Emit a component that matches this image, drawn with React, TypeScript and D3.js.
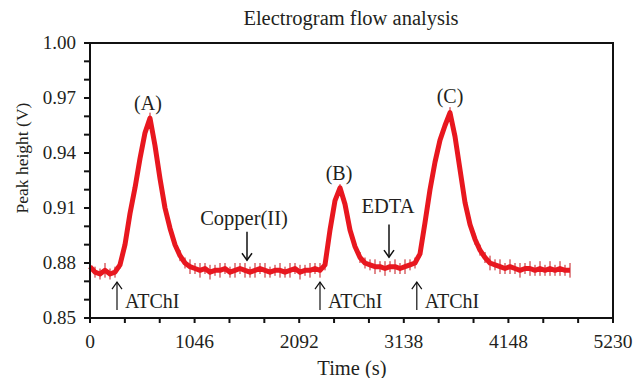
import React from "react";
import * as d3 from "d3";

const sampleStep = 50; // seconds between samples
const peakHeight: number[] = [
  0.878, 0.875, 0.874, 0.876, 0.874, 0.875, 0.879, 0.890, 0.907, 0.921,
  0.937, 0.951, 0.959, 0.944, 0.926, 0.910, 0.899, 0.890, 0.884, 0.880,
  0.878, 0.877, 0.876, 0.877, 0.875, 0.876, 0.876, 0.877, 0.875, 0.876,
  0.877, 0.876, 0.875, 0.876, 0.877, 0.876, 0.875, 0.876, 0.876, 0.875,
  0.876, 0.877, 0.875, 0.876, 0.876, 0.877, 0.876, 0.879, 0.898, 0.914,
  0.921, 0.912, 0.898, 0.889, 0.883, 0.880, 0.879, 0.878, 0.878, 0.877,
  0.878, 0.878, 0.877, 0.878, 0.879, 0.880, 0.885, 0.902, 0.920, 0.935,
  0.947, 0.955, 0.962, 0.949, 0.931, 0.913, 0.901, 0.893, 0.887, 0.883,
  0.880, 0.879, 0.878, 0.877, 0.878, 0.877, 0.876, 0.877, 0.877, 0.876,
  0.877, 0.876, 0.877, 0.876, 0.877, 0.876, 0.876,
];
const noise: number[] = [
  0.004, 0.003, 0.003, 0.004, 0.003, 0.003, 0.002, 0.003, 0.002, 0.002,
  0.002, 0.002, 0.003, 0.002, 0.002, 0.002, 0.002, 0.002, 0.003, 0.003,
  0.004, 0.003, 0.004, 0.003, 0.004, 0.003, 0.004, 0.003, 0.003, 0.004,
  0.003, 0.004, 0.003, 0.004, 0.003, 0.004, 0.003, 0.003, 0.004, 0.003,
  0.004, 0.003, 0.004, 0.003, 0.004, 0.003, 0.004, 0.003, 0.002, 0.002,
  0.002, 0.002, 0.002, 0.002, 0.003, 0.003, 0.003, 0.004, 0.003, 0.004,
  0.003, 0.004, 0.003, 0.004, 0.003, 0.003, 0.002, 0.002, 0.002, 0.002,
  0.002, 0.002, 0.003, 0.002, 0.002, 0.002, 0.002, 0.003, 0.003, 0.003,
  0.004, 0.003, 0.004, 0.003, 0.004, 0.003, 0.004, 0.003, 0.004, 0.003,
  0.004, 0.003, 0.004, 0.003, 0.004, 0.003, 0.004,
];

const xMajorTicks = [0, 1046, 2092, 3138, 4184, 5230];
const xTickLabels = ["0", "1046", "2092", "3138", "4148", "5230"];
const yMajorTicks = [0.85, 0.88, 0.91, 0.94, 0.97, 1.0];
const yTickLabels = ["0.85", "0.88", "0.91", "0.94", "0.97", "1.00"];

const peakLabels = [
  { text: "(A)", t: 580, v: 0.9635 },
  { text: "(B)", t: 2490, v: 0.9255 },
  { text: "(C)", t: 3600, v: 0.9675 },
];
const downArrows = [
  { text: "Copper(II)", t: 1570, textT: 1540, tip: 0.8815, tail: 0.897, textV: 0.9005 },
  { text: "EDTA", t: 2990, textT: 2980, tip: 0.8832, tail: 0.901, textV: 0.9072 },
];
const upArrows = [
  { text: "ATChI", t: 270 },
  { text: "ATChI", t: 2300 },
  { text: "ATChI", t: 3268 },
];

const W = 636;
const H = 378;
const FONT = "'Liberation Serif', 'Times New Roman', serif";
const TXT = "#231f20";

export default function App() {
  const x = d3.scaleLinear().domain([0, 5230]).range([90, 613]);
  const y = d3.scaleLinear().domain([0.85, 1.0]).range([318, 43]);
  const data = peakHeight.map((v, i) => ({ t: i * sampleStep, v, e: noise[i] }));
  const line = d3
    .line<{ t: number; v: number }>()
    .x((d) => x(d.t))
    .y((d) => y(d.v));
  const xMinor = d3.range(0, 5231, 5230 / 15);
  const yMinor = d3.range(0, 16).map((i) => 0.85 + i * 0.01);
  const [x0, x1] = x.range();
  const [yb, yt] = y.range();

  return (
    <svg
      width={W}
      height={H}
      style={{ position: "absolute", left: 0, top: 0, background: "#fff" }}
      fontFamily={FONT}
    >
      <text x={351} y={25} textAnchor="middle" fontSize={20.5} fill={TXT}>
        Electrogram flow analysis
      </text>

      {/* data */}
      <g>
        {data.map((d, i) => (
          <line
            key={"e" + i}
            x1={x(d.t)}
            x2={x(d.t)}
            y1={y(d.v - d.e)}
            y2={y(d.v + d.e)}
            stroke="#c4161c"
            strokeWidth={1}
          />
        ))}
        <path d={line(data) || ""} fill="none" stroke="#e8171f" strokeWidth={5} strokeLinejoin="round" />
      </g>

      {/* frame */}
      <rect x={x0} y={yt} width={x1 - x0} height={yb - yt} fill="none" stroke="#111" strokeWidth={2} />

      {/* x ticks */}
      {xMinor.map((t, i) => (
        <line key={"xm" + i} x1={x(t)} x2={x(t)} y1={yb} y2={yb + 5} stroke="#111" strokeWidth={2} />
      ))}
      {xMajorTicks.map((t, i) => (
        <text key={"xl" + i} x={x(t)} y={348} textAnchor="middle" fontSize={19.5} fill={TXT}>
          {xTickLabels[i]}
        </text>
      ))}
      {/* y ticks */}
      {yMinor.map((v, i) => (
        <line key={"ym" + i} x1={x0 - 6} x2={x0} y1={y(v)} y2={y(v)} stroke="#111" strokeWidth={2} />
      ))}
      {yMajorTicks.map((v, i) => (
        <text key={"yl" + i} x={76} y={y(v)} dy="0.33em" textAnchor="end" fontSize={19} fill={TXT}>
          {yTickLabels[i]}
        </text>
      ))}

      <text x={352} y={375} textAnchor="middle" fontSize={20.5} fill={TXT}>
        Time (s)
      </text>
      <text transform="translate(28,158) rotate(-90)" textAnchor="middle" fontSize={17.5} fill={TXT}>
        Peak height (V)
      </text>

      {/* annotations */}
      {peakLabels.map((p, i) => (
        <text key={"p" + i} x={x(p.t)} y={y(p.v)} textAnchor="middle" fontSize={20} fill={TXT}>
          {p.text}
        </text>
      ))}
      {downArrows.map((a, i) => {
        const ax = x(a.t);
        const tipY = y(a.tip);
        return (
          <g key={"d" + i} stroke="#111" strokeWidth={1.5} fill="none">
            <line x1={ax} x2={ax} y1={y(a.tail)} y2={tipY} />
            <polyline points={`${ax - 5},${tipY - 7} ${ax},${tipY} ${ax + 5},${tipY - 7}`} />
            <text x={x(a.textT)} y={y(a.textV)} textAnchor="middle" fontSize={20.5} fill={TXT} stroke="none">
              {a.text}
            </text>
          </g>
        );
      })}
      {upArrows.map((a, i) => {
        const ax = x(a.t);
        const tipY = y(0.8696);
        return (
          <g key={"u" + i} stroke="#111" strokeWidth={1.2} fill="none">
            <line x1={ax} x2={ax} y1={y(0.8544)} y2={tipY} />
            <polyline points={`${ax - 5},${tipY + 7} ${ax},${tipY} ${ax + 5},${tipY + 7}`} />
            <text x={ax + 8} y={y(0.8555)} fontSize={20} fill={TXT} stroke="none">
              {a.text}
            </text>
          </g>
        );
      })}
    </svg>
  );
}
